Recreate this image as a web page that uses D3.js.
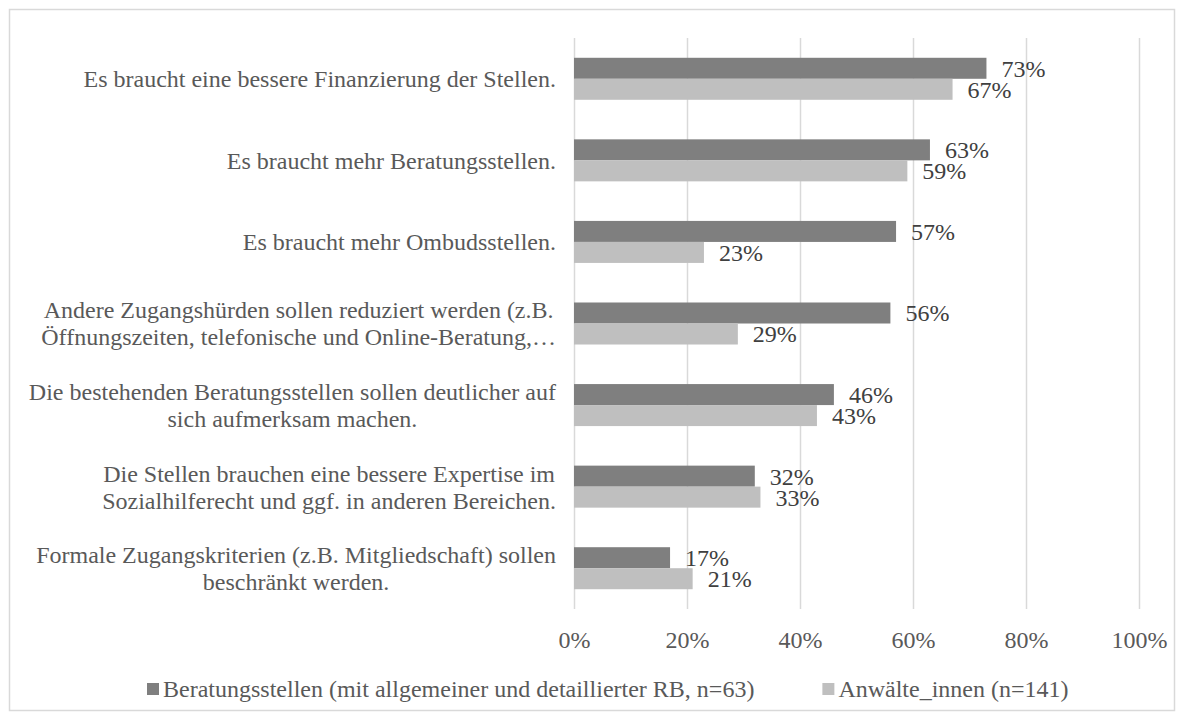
<!DOCTYPE html>
<html>
<head>
<meta charset="utf-8">
<script src="https://cdn.jsdelivr.net/npm/d3@7"></script>
<style>
  html, body { margin: 0; padding: 0; background: #ffffff; }
  svg { display: block; font-family: "Liberation Serif", "Times New Roman", serif; }
</style>
</head>
<body>
<svg id="chart" width="1184" height="720"></svg>
<script>
// Survey answers (share of respondents agreeing), top to bottom
const categories = [
  "Es braucht eine bessere Finanzierung der Stellen.",
  "Es braucht mehr Beratungsstellen.",
  "Es braucht mehr Ombudsstellen.",
  "Andere Zugangshürden sollen reduziert werden (z.B.\nÖffnungszeiten, telefonische und Online-Beratung,…",
  "Die bestehenden Beratungsstellen sollen deutlicher auf\nsich aufmerksam machen.",
  "Die Stellen brauchen eine bessere Expertise im\nSozialhilferecht und ggf. in anderen Bereichen.",
  "Formale Zugangskriterien (z.B. Mitgliedschaft) sollen\nbeschränkt werden."
];
const beratungsstellen = [73, 63, 57, 56, 46, 32, 17];
const anwaelte = [67, 59, 23, 29, 43, 33, 21];
const seriesNames = [
  "Beratungsstellen (mit allgemeiner und detaillierter RB, n=63)",
  "Anwälte_innen (n=141)"
];
const seriesColors = ["#7f7f7f", "#bfbfbf"];
const tickValues = [0, 20, 40, 60, 80, 100];

const seriesValues = [beratungsstellen, anwaelte];
const rows = categories.map((c, i) => ({
  category: c,
  values: seriesValues.map((vals, s) => ({ series: s, value: vals[i] }))
}));

const svg = d3.select("#chart");
const W = 1184, H = 720;
const plot = { left: 574, right: 1139, top: 38, bottom: 609 };
const textColor = "#595959";
const fontSize = 24;

// outer frame
svg.append("rect")
  .attr("x", 9.5).attr("y", 9.5)
  .attr("width", W - 19).attr("height", H - 19)
  .attr("fill", "#ffffff").attr("stroke", "#d9d9d9").attr("stroke-width", 1.5);

const x = d3.scaleLinear().domain([0, 100]).range([plot.left, plot.right]);
const y = d3.scaleBand()
  .domain(d3.range(categories.length))
  .range([plot.top, plot.bottom])
  .paddingInner(0.485)
  .paddingOuter(0.2425);
const ySub = d3.scaleBand()
  .domain(d3.range(seriesValues.length))
  .range([0, y.bandwidth()]);

// vertical gridlines
const xAxis = d3.axisBottom(x)
  .tickValues(tickValues)
  .tickSize(-(plot.bottom - plot.top))
  .tickPadding(22)
  .tickFormat(d => d + "%");

const gx = svg.append("g")
  .attr("transform", `translate(0,${plot.bottom})`)
  .call(xAxis);
gx.select(".domain").remove();
gx.selectAll(".tick line").attr("stroke", "#d9d9d9").attr("stroke-width", 1.5);
gx.selectAll(".tick text")
  .attr("fill", textColor)
  .attr("font-size", fontSize)
  .attr("font-family", "\"Liberation Serif\", \"Times New Roman\", serif");

// bars
const groups = svg.append("g").selectAll("g")
  .data(rows)
  .join("g")
  .attr("transform", (d, i) => `translate(0,${y(i)})`);

groups.selectAll("rect")
  .data(d => d.values)
  .join("rect")
  .attr("x", x(0))
  .attr("y", d => ySub(d.series))
  .attr("width", d => x(d.value) - x(0))
  .attr("height", ySub.bandwidth())
  .attr("fill", d => seriesColors[d.series]);

// value labels
groups.selectAll("text.value")
  .data(d => d.values)
  .join("text")
  .attr("class", "value")
  .attr("x", d => x(d.value) + 15)
  .attr("y", d => ySub(d.series) + ySub.bandwidth() / 2)
  .attr("dy", "0.35em")
  .attr("font-size", fontSize)
  .attr("fill", "#404040")
  .text(d => d.value + "%");

// category labels: lines centred on each other, block right-aligned to the axis
const labelRight = 556;
const lineHeight = 27;
const labels = svg.append("g");
rows.forEach((r, i) => {
  const lines = r.category.split("\n");
  const cy = y(i) + y.bandwidth() / 2;
  const t = labels.append("text")
    .attr("font-size", fontSize)
    .attr("fill", textColor)
    .attr("text-anchor", "middle");
  const spans = lines.map((ln, k) => t.append("tspan")
    .attr("y", cy + (k - (lines.length - 1) / 2) * lineHeight)
    .attr("dy", "0.35em")
    .text(ln));
  const maxW = d3.max(spans, s => s.node().getComputedTextLength());
  spans.forEach(s => s.attr("x", labelRight - maxW / 2));
});

// legend
const legend = svg.append("g").attr("transform", "translate(147,689)");
let lx = 0;
seriesNames.forEach((name, s) => {
  const g = legend.append("g").attr("transform", `translate(${lx},0)`);
  g.append("rect")
    .attr("x", 0).attr("y", -6)
    .attr("width", 12).attr("height", 12)
    .attr("fill", seriesColors[s]);
  const t = g.append("text")
    .attr("x", 16).attr("y", 0).attr("dy", "0.35em")
    .attr("font-size", fontSize)
    .attr("fill", textColor)
    .text(name);
  lx += 16 + t.node().getComputedTextLength() + 68;
});
</script>
</body>
</html>
